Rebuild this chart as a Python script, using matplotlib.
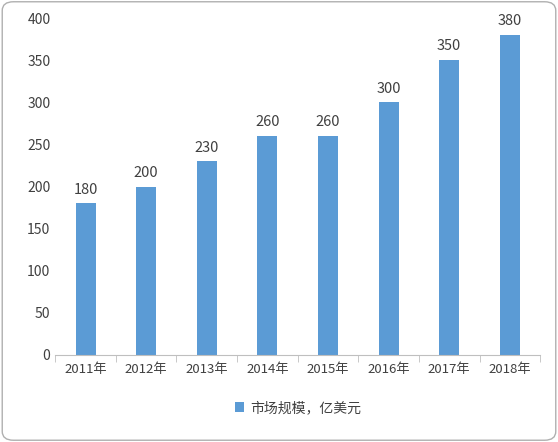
import matplotlib.pyplot as plt
from matplotlib.patches import FancyBboxPatch

plt.rcParams['font.family'] = ['Noto Sans CJK SC', 'DejaVu Sans']

years = ['2011年', '2012年', '2013年', '2014年', '2015年', '2016年', '2017年', '2018年']
market = [180, 200, 230, 260, 260, 300, 350, 380]
series_name = '市场规模，亿美元'

fig = plt.figure(figsize=(5.58, 4.42), dpi=100)
frame = FancyBboxPatch((0.004, 0.004), 0.992, 0.992, boxstyle='round,pad=0,rounding_size=0.02',
                       transform=fig.transFigure, fc='none', ec='#b0b0b0', lw=1, zorder=-10)
fig.patches.append(frame)
ax = fig.add_axes([0.099, 0.197, 0.869, 0.762])
ax.patch.set_alpha(0)

x = range(len(years))
ax.bar(x, market, width=0.33, color='#5b9bd5', label=series_name)
for xi, v in zip(x, market):
    ax.text(xi, v + 8, str(v), ha='center', va='bottom', fontsize=10.5, color='#404040')

ax.set_ylim(0, 400)
ax.set_yticks(range(0, 401, 50))
ax.set_xlim(-0.5, len(years) - 0.5)
ax.set_xticks(list(x))
ax.set_xticklabels(years)
ax.set_xticks([i - 0.5 for i in range(len(years) + 1)], minor=True)
ax.tick_params(axis='x', which='major', length=0, labelsize=9.5, colors='#404040', pad=6)
ax.tick_params(axis='x', which='minor', length=5, color='#bfbfbf')
ax.tick_params(axis='y', length=0, labelsize=10, colors='#404040')
for s in ['top', 'right', 'left']:
    ax.spines[s].set_visible(False)
ax.spines['bottom'].set_color('#bfbfbf')

ax.legend(loc='upper center', bbox_to_anchor=(0.5, -0.1), frameon=False, fontsize=10,
          handlelength=0.7, handleheight=0.7, handletextpad=0.4, labelcolor='#404040')

fig.savefig('out.png', dpi=100)
